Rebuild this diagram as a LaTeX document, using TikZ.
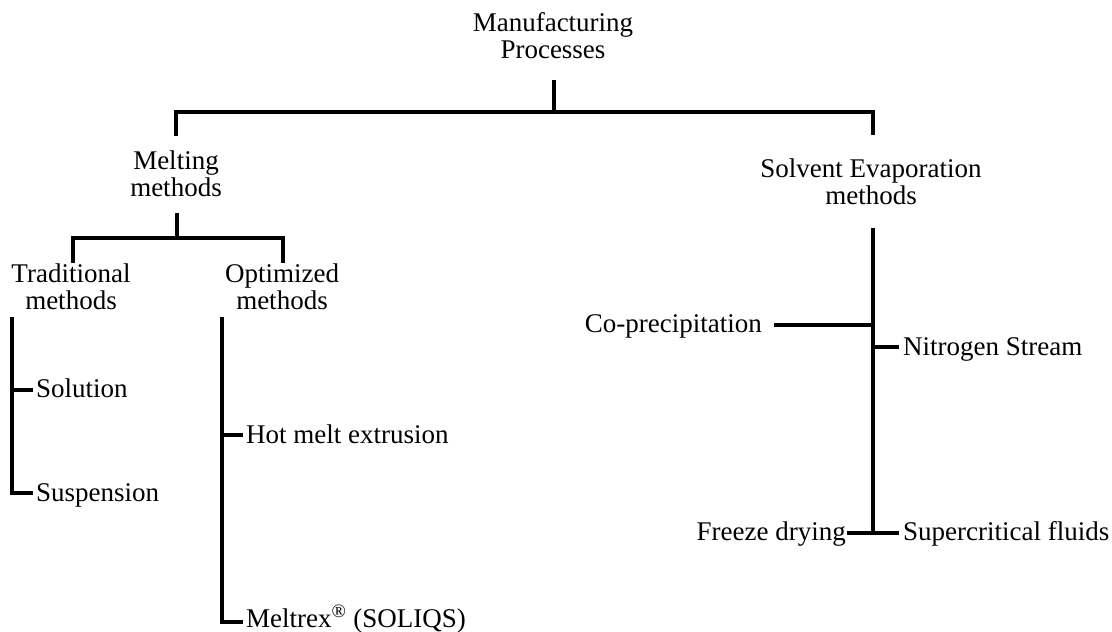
\documentclass[tikz,border=0pt]{standalone}
\usepackage{fontspec}
\setmainfont{Liberation Serif}
\begin{document}
\begin{tikzpicture}[x=1pt,y=-1pt,
  lbl/.style={inner sep=0pt, font=\fontsize{27}{27}\selectfont, align=center},
  conn/.style={line width=4pt, line join=miter}]
\useasboundingbox (0,0) rectangle (1112,632);
% text nodes
\node[lbl] (mp) at (553,36) {Manufacturing\\Processes};
\node[lbl] (melt) at (176,174) {Melting\\methods};
\node[lbl] (solv) at (871,182) {Solvent Evaporation\\methods};
\node[lbl] (trad) at (71,287) {Traditional\\methods};
\node[lbl] (opt) at (282,287) {Optimized\\methods};
\node[lbl, anchor=base west] (sol) at (36,397) {Solution};
\node[lbl, anchor=base west] (susp) at (36,501) {Suspension};
\node[lbl, anchor=base west] (hme) at (246,443) {Hot melt extrusion};
\node[lbl, anchor=base west] (melx) at (246,627) {Meltrex\textsuperscript{®} (SOLIQS)};
\node[lbl, anchor=base east] (cop) at (762,332) {Co-precipitation};
\node[lbl, anchor=base west] (nit) at (903,355) {Nitrogen Stream};
\node[lbl, anchor=base east] (frz) at (846,540) {Freeze drying};
\node[lbl, anchor=base west] (sup) at (903,540) {Supercritical fluids};
% junction coordinates
\coordinate (t0) at (554,80);
\coordinate (t1) at (554,112);
\coordinate (bl) at (176,112);
\coordinate (br) at (873,112);
\coordinate (m0) at (176,136);
\coordinate (s0) at (873,135);
\coordinate (m1) at (177,213);
\coordinate (m2) at (177,238);
\coordinate (tl) at (73,238);
\coordinate (tr) at (283,238);
\coordinate (td) at (73,263);
\coordinate (od) at (283,263);
\coordinate (a0) at (12,317);
\coordinate (a1) at (12,493);
\coordinate (a2) at (33,493);
\coordinate (a3) at (12,390);
\coordinate (a4) at (33,390);
\coordinate (b0) at (222,317);
\coordinate (b1) at (222,622);
\coordinate (b2) at (243,622);
\coordinate (b3) at (222,435);
\coordinate (b4) at (243,435);
\coordinate (c0) at (873,228);
\coordinate (c1) at (873,533);
\coordinate (c2) at (774,325);
\coordinate (c3) at (873,325);
\coordinate (c4) at (873,347);
\coordinate (c5) at (899,347);
\coordinate (c6) at (847,533);
\coordinate (c7) at (899,533);
% connectors
\draw[conn] (t0) -- (t1);
\draw[conn] (m0) -- (bl) -- (br) -- (s0);
\draw[conn] (m1) -- (m2);
\draw[conn] (td) -- (tl) -- (tr) -- (od);
\draw[conn] (a0) -- (a1) -- (a2);
\draw[conn] (a3) -- (a4);
\draw[conn] (b0) -- (b1) -- (b2);
\draw[conn] (b3) -- (b4);
\draw[conn] (c0) -- (c1);
\draw[conn] (c2) -- (c3);
\draw[conn] (c4) -- (c5);
\draw[conn] (c6) -- (c7);
\end{tikzpicture}
\end{document}
